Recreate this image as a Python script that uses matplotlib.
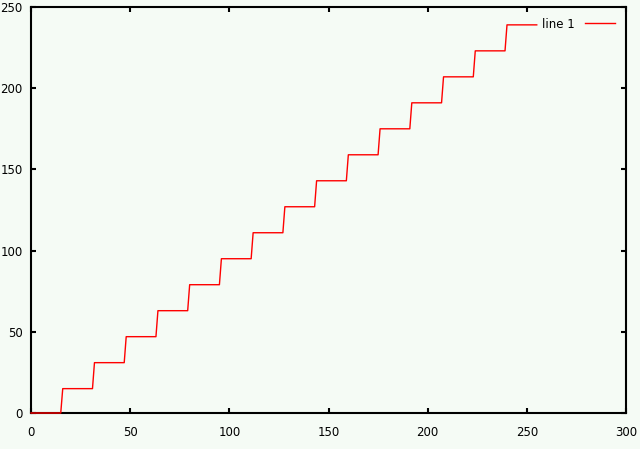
import matplotlib
matplotlib.use('Agg')
import matplotlib.pyplot as plt

step_start = [0, 16, 32, 48, 64, 80, 96, 112, 128, 144, 160, 176, 192, 208, 224, 240]
step_level = [0, 15, 31, 47, 63, 79, 95, 111, 127, 143, 159, 175, 191, 207, 223, 239]
step_width = 15

x_ticks = [0, 50, 100, 150, 200, 250, 300]
y_ticks = [0, 50, 100, 150, 200, 250]

xs = []
ys = []
for s, v in zip(step_start, step_level):
    xs += [s, s + step_width]
    ys += [v, v]

bg = '#f5fbf5'
plt.rcParams['font.family'] = ['DejaVu Sans']
fig = plt.figure(figsize=(6.4, 4.49), dpi=100, facecolor=bg)
ax = fig.add_axes([31/640, 1 - 413/449, 595/640, 406/449])
ax.set_facecolor(bg)

ax.plot(xs, ys, color='#ff0000', linewidth=1.0, label='line 1', zorder=3, clip_on=False)

ax.set_xlim(0, 300)
ax.set_ylim(0, 250)
ax.set_xticks(x_ticks)
ax.set_yticks(y_ticks)
ax.tick_params(direction='in', length=3.5, width=1.5, top=True, right=True,
               labelsize=8.5, pad=6)
ax.tick_params(axis='x', pad=9)
for sp in ax.spines.values():
    sp.set_linewidth(1.5)

ax.legend(loc='upper right', frameon=False, markerfirst=False, fontsize=8.5,
          handlelength=2.6, borderaxespad=0.5)

plt.savefig('out.png', dpi=100, facecolor=bg)
